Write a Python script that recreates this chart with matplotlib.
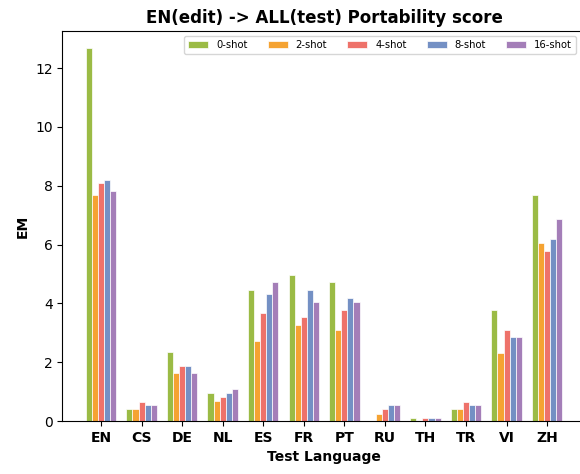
import numpy as np
import matplotlib
matplotlib.use("Agg")
import matplotlib.pyplot as plt

languages = ['EN', 'CS', 'DE', 'NL', 'ES', 'FR', 'PT', 'RU', 'TH', 'TR', 'VI', 'ZH']
shots = ['0-shot', '2-shot', '4-shot', '8-shot', '16-shot']
colors = ['#9bbb45', '#f5a332', '#ee726a', '#7490c4', '#a47eb8']

shot0 = [12.67, 0.40, 2.33, 0.95, 4.45, 4.97, 4.72, 0.00, 0.10, 0.40, 3.78, 7.68]
shot2 = [7.67, 0.40, 1.63, 0.67, 2.71, 3.25, 3.10, 0.24, 0.00, 0.40, 2.31, 6.05]
shot4 = [8.09, 0.65, 1.88, 0.80, 3.66, 3.52, 3.78, 0.40, 0.10, 0.65, 3.10, 5.79]
shot8 = [8.20, 0.54, 1.88, 0.95, 4.31, 4.45, 4.18, 0.54, 0.10, 0.54, 2.85, 6.19]
shot16 = [7.81, 0.54, 1.63, 1.10, 4.74, 4.05, 4.04, 0.54, 0.10, 0.54, 2.85, 6.87]
scores = [shot0, shot2, shot4, shot8, shot16]

fig = plt.figure(figsize=(5.8, 4.74), dpi=100)
ax = fig.add_axes([0.1074, 0.1118, 0.903, 0.8228])

x = np.arange(len(languages))
width = 0.15
for i, (name, vals) in enumerate(zip(shots, scores)):
    ax.bar(x + (i - 2) * width, vals, width, label=name, color=colors[i],
           edgecolor='white', linewidth=0.5)

ax.set_xlim(-0.955, 11.96)
ax.set_ylim(0, 13.26)
ax.set_xticks(x)
ax.set_xticklabels(languages, fontweight='bold', fontsize=10)
ax.tick_params(axis='y', labelsize=10)
ax.set_xlabel('Test Language', fontweight='bold', fontsize=10)
ax.set_ylabel('EM', fontweight='bold', fontsize=10)
ax.set_title('EN(edit) -> ALL(test) Portability score', fontweight='bold', fontsize=12)
ax.spines['right'].set_visible(False)
ax.legend(loc='upper right', ncol=5, fontsize=7.2, bbox_to_anchor=(0.99, 1.0))

fig.savefig('out.png', dpi=100)
